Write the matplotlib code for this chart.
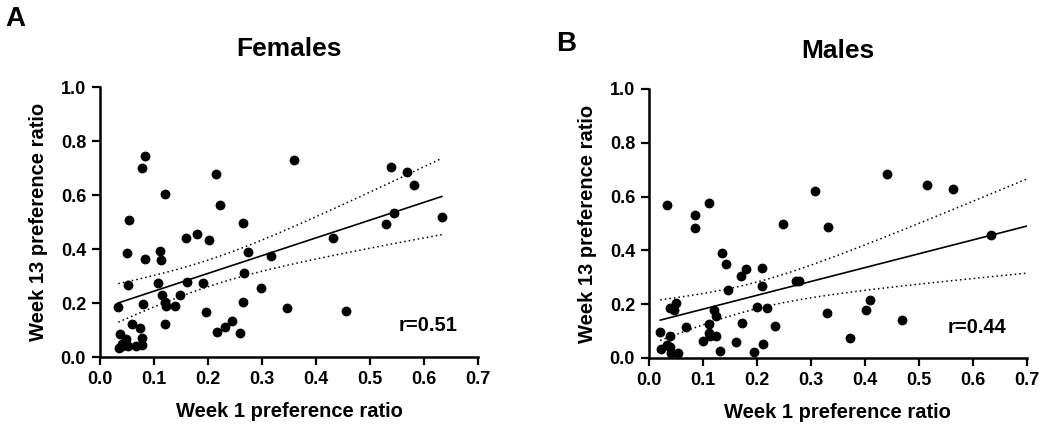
import numpy as np
import matplotlib
matplotlib.use("Agg")
import matplotlib.pyplot as plt

plt.rcParams['font.family'] = ['Liberation Sans', 'DejaVu Sans']
plt.rcParams['font.weight'] = 'bold'

# ---------------- data ----------------
fem_week1 = [0.083, 0.077, 0.215, 0.120, 0.223, 0.053, 0.264, 0.159, 0.179, 0.201,
             0.050, 0.112, 0.113, 0.083, 0.274, 0.316, 0.052, 0.107, 0.161, 0.191,
             0.266, 0.299, 0.034, 0.079, 0.114, 0.121, 0.123, 0.139, 0.149, 0.196,
             0.265, 0.120, 0.059, 0.074, 0.216, 0.232, 0.244, 0.260, 0.037, 0.049,
             0.077, 0.040, 0.051, 0.067, 0.077, 0.035, 0.041, 0.360, 0.539, 0.569,
             0.582, 0.545, 0.633, 0.530, 0.431, 0.346, 0.455]
fem_week13 = [0.743, 0.700, 0.678, 0.603, 0.563, 0.506, 0.496, 0.440, 0.456, 0.434,
              0.385, 0.394, 0.359, 0.362, 0.390, 0.375, 0.268, 0.273, 0.278, 0.274,
              0.311, 0.257, 0.186, 0.196, 0.229, 0.204, 0.189, 0.189, 0.231, 0.165,
              0.205, 0.122, 0.121, 0.108, 0.092, 0.110, 0.133, 0.090, 0.086, 0.068,
              0.071, 0.049, 0.042, 0.042, 0.043, 0.032, 0.040, 0.729, 0.705, 0.686,
              0.637, 0.532, 0.518, 0.492, 0.440, 0.180, 0.171]

male_week1 = [0.034, 0.085, 0.111, 0.307, 0.086, 0.249, 0.135, 0.143, 0.171, 0.180,
              0.210, 0.210, 0.146, 0.273, 0.278, 0.051, 0.039, 0.046, 0.120, 0.125,
              0.200, 0.218, 0.068, 0.112, 0.172, 0.233, 0.021, 0.039, 0.112, 0.113,
              0.124, 0.101, 0.162, 0.023, 0.033, 0.039, 0.040, 0.054, 0.132, 0.194,
              0.211, 0.440, 0.515, 0.564, 0.331, 0.633, 0.409, 0.402, 0.329, 0.468,
              0.372]
male_week13 = [0.569, 0.531, 0.577, 0.621, 0.484, 0.498, 0.390, 0.350, 0.304, 0.331,
               0.333, 0.267, 0.251, 0.285, 0.285, 0.206, 0.187, 0.177, 0.177, 0.157,
               0.190, 0.187, 0.117, 0.128, 0.131, 0.120, 0.096, 0.083, 0.093, 0.080,
               0.080, 0.062, 0.061, 0.035, 0.047, 0.041, 0.019, 0.019, 0.026, 0.024,
               0.053, 0.683, 0.642, 0.630, 0.488, 0.457, 0.216, 0.177, 0.168, 0.141,
               0.076]

# regression lines: (slope, intercept, x end)
fit_slopes = [0.658, 0.515]
fit_intercepts = [0.178, 0.130]
fit_x_end = [0.633, 0.7]

titles = ["Females", "Males"]
panel_letters = ["A", "B"]
r_labels = ["r=0.51", "r=0.44"]
x_ticks = [0.0, 0.1, 0.2, 0.3, 0.4, 0.5, 0.6, 0.7]
y_ticks = [0.0, 0.2, 0.4, 0.6, 0.8, 1.0]
x_label = "Week 1 preference ratio"
y_label = "Week 13 preference ratio"

# ---------------- figure ----------------
fig = plt.figure(figsize=(10.5, 4.32), dpi=100)
ax_rects = [[0.0952, 0.1736, 0.360, 0.625], [0.618, 0.1713, 0.360, 0.6227]]


def band(x, y, xs, slope, intercept):
    x = np.asarray(x); y = np.asarray(y)
    n = len(x)
    resid = y - (slope * x + intercept)
    s = np.sqrt(np.sum(resid ** 2) / (n - 2))
    xm = x.mean()
    sxx = np.sum((x - xm) ** 2)
    pred = slope * xs + intercept
    se = s * np.sqrt(1.0 / n + (xs - xm) ** 2 / sxx)
    return pred, pred - 2.0 * se, pred + 2.0 * se


datasets = [(fem_week1, fem_week13), (male_week1, male_week13)]
for i, (xd, yd) in enumerate(datasets):
    ax = fig.add_axes(ax_rects[i])
    ax.scatter(xd, yd, s=50, color='black', zorder=3, linewidths=0)
    xs = np.linspace(min(xd), fit_x_end[i], 100)
    pred, lo, hi = band(xd, yd, xs, fit_slopes[i], fit_intercepts[i])
    ax.plot(xs, pred, color='black', lw=1.2, zorder=2)
    ax.plot(xs, lo, color='black', lw=1.1, ls=(0, (1, 2)), zorder=2)
    ax.plot(xs, hi, color='black', lw=1.1, ls=(0, (1, 2)), zorder=2)

    ax.set_xlim(0, 0.7)
    ax.set_ylim(0, 1.0)
    ax.set_xticks(x_ticks)
    ax.set_yticks(y_ticks)
    ax.set_xticklabels([f"{v:.1f}" for v in x_ticks], fontsize=13, fontweight='bold')
    ax.set_yticklabels([f"{v:.1f}" for v in y_ticks], fontsize=13, fontweight='bold')
    ax.tick_params(direction='out', length=6, width=1.6, pad=4)
    for sp in ['top', 'right']:
        ax.spines[sp].set_visible(False)
    for sp in ['left', 'bottom']:
        ax.spines[sp].set_linewidth(1.8)
    ax.set_xlabel(x_label, fontsize=14.5, fontweight='bold', labelpad=10)
    ax.set_ylabel(y_label, fontsize=14.5, fontweight='bold', labelpad=9)
    ax.set_title(titles[i], fontsize=19, fontweight='bold', pad=22)
    ax.text(0.945, 0.115, r_labels[i], transform=ax.transAxes, ha='right', va='center',
            fontsize=14.5, fontweight='bold')

fig.text(5 / 1050, 1 - 19 / 432, panel_letters[0], fontsize=20, fontweight='bold',
         ha='left', va='center')
fig.text(556 / 1050, 1 - 44 / 432, panel_letters[1], fontsize=20, fontweight='bold',
         ha='left', va='center')

fig.savefig("out.png", dpi=100)
